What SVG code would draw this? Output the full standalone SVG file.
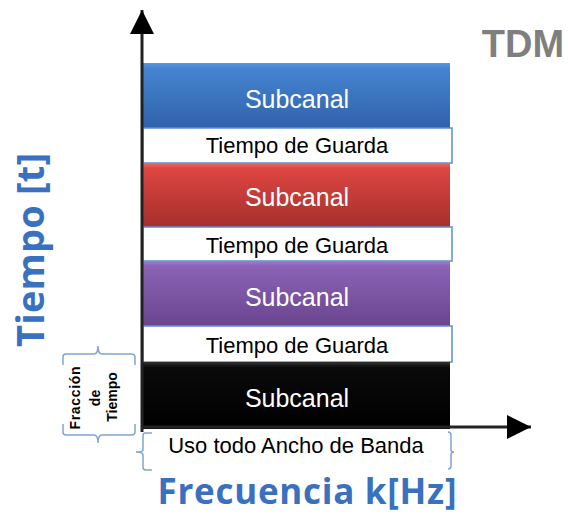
<svg xmlns="http://www.w3.org/2000/svg" width="568" height="515" viewBox="0 0 568 515">
<defs>
<linearGradient id="gBlue" x1="0" y1="0" x2="0" y2="1"><stop offset="0" stop-color="#5a96e0"/><stop offset="0.08" stop-color="#4684d2"/><stop offset="1" stop-color="#2f63aa"/></linearGradient>
<linearGradient id="gRed" x1="0" y1="0" x2="0" y2="1"><stop offset="0" stop-color="#ef6a66"/><stop offset="0.08" stop-color="#de4642"/><stop offset="1" stop-color="#a52f2c"/></linearGradient>
<linearGradient id="gPurple" x1="0" y1="0" x2="0" y2="1"><stop offset="0" stop-color="#a07ccc"/><stop offset="0.08" stop-color="#8b63b6"/><stop offset="1" stop-color="#6a458f"/></linearGradient>
<linearGradient id="gBlack" x1="0" y1="0" x2="0" y2="1"><stop offset="0" stop-color="#333"/><stop offset="0.08" stop-color="#0a0a0a"/><stop offset="1" stop-color="#000"/></linearGradient>
<marker id="ah" viewBox="0 0 24 24" refX="24" refY="12" markerWidth="24" markerHeight="24" markerUnits="userSpaceOnUse" orient="auto"><path d="M0,0 L24,12 L0,24 Z" fill="#000"/></marker>
</defs>
<style>
.sub{font-family:"Liberation Sans",Arial,sans-serif;font-size:25px;fill:#fff;text-anchor:middle}
.guard{font-family:"Liberation Sans",Arial,sans-serif;font-size:22px;fill:#000;text-anchor:middle}
.gbox{fill:#fff;stroke:#5b8ed0;stroke-width:1.5}
.axis{fill:none;stroke:#222;stroke-width:3}
.brace{fill:none;stroke:#7fa4d4;stroke-width:1.5}
.big{font-family:"Open Sans","Liberation Sans",Arial,sans-serif;font-weight:bold;fill:#3a70c0}
.frac{font-family:"Liberation Sans",Arial,sans-serif;font-weight:bold;font-size:14px;fill:#000;text-anchor:middle}
</style>

<g id="title"><text x="523" y="57" font-family="'Liberation Sans',Arial,sans-serif" font-weight="bold" font-size="38" fill="#7f7f7f" text-anchor="middle">TDM</text></g>

<g id="sub1"><rect x="143" y="63" width="307" height="65" fill="url(#gBlue)"/><text class="sub" x="297" y="108">Subcanal</text></g>
<g id="guard1"><rect class="gbox" x="143" y="128" width="309" height="35"/><text class="guard" x="297" y="153">Tiempo de Guarda</text></g>
<g id="sub2"><rect x="143" y="163" width="307" height="64" fill="url(#gRed)"/><text class="sub" x="297" y="206">Subcanal</text></g>
<g id="guard2"><rect class="gbox" x="143" y="227" width="309" height="34"/><text class="guard" x="297" y="253">Tiempo de Guarda</text></g>
<g id="sub3"><rect x="143" y="261" width="307" height="65" fill="url(#gPurple)"/><text class="sub" x="297" y="306">Subcanal</text></g>
<g id="guard3"><rect class="gbox" x="143" y="326" width="309" height="36"/><text class="guard" x="297" y="353">Tiempo de Guarda</text></g>
<g id="sub4"><rect x="143" y="362" width="307" height="67" fill="url(#gBlack)"/><text class="sub" x="297" y="407">Subcanal</text></g>

<g id="connectors">
<line class="axis" x1="142" y1="432" x2="142" y2="10" marker-end="url(#ah)"/>
<line class="axis" x1="142" y1="427" x2="531" y2="427" marker-end="url(#ah)"/>
</g>

<g id="bandwidth">
<path class="brace" d="M152,433 L145,433 Q143,433 143,436 L143,450 Q143,452 136,452 Q143,452 143,455 L143,467 Q143,470 146,470 L152,470"/>
<path class="brace" d="M448,432 Q451,432 451,435 L451,450 Q451,452 454,452 Q451,452 451,455 L451,466 Q451,469 448,469"/>
<text x="296" y="453" font-family="'Liberation Sans',Arial,sans-serif" font-size="22" fill="#000" text-anchor="middle">Uso todo Ancho de Banda</text>
</g>

<g id="fraccion">
<path class="brace" d="M63,365 L63,357 Q63,354 66,354 L94,354 Q98,354 98,346 Q98,354 102,354 L131,354 Q135,354 135,357 L135,365"/>
<path class="brace" d="M63,424 L63,432 Q63,435 66,435 L94,435 Q98,435 98,443 Q98,435 102,435 L131,435 Q135,435 135,432 L135,424"/>
<text class="frac" transform="translate(80,398) rotate(-90)" textLength="63">Fracción</text>
<text class="frac" transform="translate(100,398) rotate(-90)">de</text>
<text class="frac" transform="translate(117,397) rotate(-90)">Tiempo</text>
</g>

<g id="ylabel"><text class="big" font-size="38" text-anchor="middle" transform="translate(44,250) rotate(-90)" textLength="194">Tiempo [t]</text></g>
<g id="xlabel"><text class="big" font-size="35" text-anchor="middle" x="307" y="504" textLength="299">Frecuencia k[Hz]</text></g>
</svg>
